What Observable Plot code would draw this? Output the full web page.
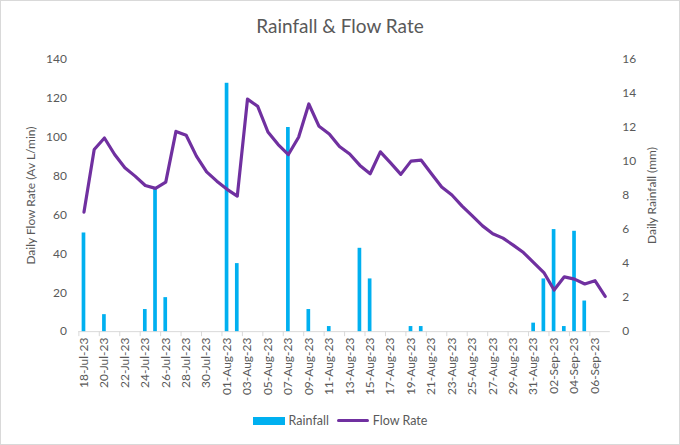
<!DOCTYPE html>
<html>
<head>
<meta charset="utf-8">
<script src="https://cdn.jsdelivr.net/npm/d3@7"></script>
<script src="https://cdn.jsdelivr.net/npm/@observablehq/plot@0.6"></script>
<style>
  html, body { margin: 0; padding: 0; background: #fff; }
  #chart { width: 680px; height: 445px; box-sizing: border-box; border: 1px solid #d9d9d9; position: relative; overflow: hidden; font-family: Lato, "Open Sans", sans-serif; color: #595959; }
  #title { position: absolute; left: 0; width: 100%; top: 13px; text-align: center; font-size: 19px; color: #595959; }
  #plot { position: absolute; left: 0; top: 45px; }
  #legend { position: absolute; top: 412px; left: 0; width: 100%; display: flex; justify-content: center; align-items: center; font-size: 12.5px; color: #595959; }
  .sw { display: inline-block; margin-right: 4px; }
</style>
</head>
<body>
<div id="chart">
  <div id="title">Rainfall &amp; Flow Rate</div>
  <div id="plot"></div>
  <div id="legend">
    <span class="sw" style="width:32px;height:8px;background:#00b0f0;"></span><span style="margin-right:8px">Rainfall</span>
    <span class="sw" style="width:32px;height:3px;background:#7030a0;border-radius:2px;"></span><span>Flow Rate</span>
  </div>
</div>
<script>
const dates = ["18-Jul-23","19-Jul-23","20-Jul-23","21-Jul-23","22-Jul-23","23-Jul-23","24-Jul-23","25-Jul-23","26-Jul-23","27-Jul-23","28-Jul-23","29-Jul-23","30-Jul-23","31-Jul-23",
  "01-Aug-23","02-Aug-23","03-Aug-23","04-Aug-23","05-Aug-23","06-Aug-23","07-Aug-23","08-Aug-23","09-Aug-23","10-Aug-23","11-Aug-23","12-Aug-23","13-Aug-23","14-Aug-23","15-Aug-23","16-Aug-23","17-Aug-23","18-Aug-23","19-Aug-23","20-Aug-23","21-Aug-23","22-Aug-23","23-Aug-23","24-Aug-23","25-Aug-23","26-Aug-23","27-Aug-23","28-Aug-23","29-Aug-23","30-Aug-23","31-Aug-23",
  "01-Sep-23","02-Sep-23","03-Sep-23","04-Sep-23","05-Sep-23","06-Sep-23","07-Sep-23"];
const flowRate = [61.5,93.7,99.6,91.1,84.3,80,75.2,73.7,76.9,103,101,90.3,82.2,77.4,
  73.2,69.7,119.6,115.9,102.7,96.2,91.1,100,117.1,105.6,101.7,95.2,91.4,85.5,81.2,92.5,86.8,80.9,87.7,88.2,81.2,74.4,70.3,64.6,59.5,54.4,50.4,48.1,44.5,40.7,35.5,
  30.4,21.4,28.2,27,24.5,26.2,18.1];
const rainfall = [5.8,0,1.0,0,0,0,1.3,8.4,2.0,0,0,0,0,0,
  14.6,4.0,0,0,0,0,12.0,0,1.3,0,0.3,0,0,4.9,3.1,0,0,0,0.3,0.3,0,0,0,0,0,0,0,0,0,0,0.5,
  3.1,6.0,0.3,5.9,1.8,0,0];
const leftTicks = [0,20,40,60,80,100,120,140];
const rightTicks = [0,2,4,6,8,10,12,14,16];
const labelDates = dates.filter((d, i) => i % 2 === 0);

const flowMax = 140, rainMax = 16, k = flowMax / rainMax;
const rows = dates.map((d, i) => ({date: d, flow: flowRate[i], rain: rainfall[i], rainScaled: rainfall[i] * k}));

const width = 680, height = 360, mL = 77.6, mR = 69.4;
const step = (width - mL - mR) / dates.length;
const font = "Lato, 'Open Sans', sans-serif";

const chart = Plot.plot({
  width, height,
  marginLeft: mL, marginRight: mR, marginTop: 13, marginBottom: 74,
  style: {fontFamily: font, fontSize: "12px", color: "#595959", background: "white"},
  x: {type: "band", domain: dates, paddingInner: 0.64, paddingOuter: 0.32, align: 0.5, round: false},
  y: {domain: [0, flowMax]},
  marks: [
    Plot.ruleY([0], {stroke: "#d9d9d9", strokeWidth: 1}),
    Plot.barY(rows, {x: "date", y: "rainScaled", fill: "#00b0f0"}),
    Plot.line(rows, {x: "date", y: "flow", stroke: "#7030a0", strokeWidth: 3.2, strokeLinejoin: "round", strokeLinecap: "round"}),
    Plot.axisX(labelDates, {tickSize: 5, stroke: "#d9d9d9", tickFormat: () => "", dx: -step / 2, label: null}),
    Plot.axisX(labelDates, {tickSize: 0, tickPadding: 6, tickRotate: -90, fontSize: 12, fill: "#595959", label: null}),
    Plot.axisY(leftTicks, {anchor: "left", tickSize: 0, tickPadding: 12, fill: "#595959", fontSize: 12,
      label: "Daily Flow Rate (Av L/min)", labelAnchor: "center", labelArrow: "none", labelOffset: 53}),
    Plot.axisY(rightTicks.map(v => v * k), {anchor: "right", tickSize: 0, tickPadding: 12, fill: "#595959", fontSize: 12,
      tickFormat: v => String(Math.round(v / k)),
      label: "Daily Rainfall (mm)", labelAnchor: "center", labelArrow: "none", labelOffset: 46})
  ]
});
document.getElementById("plot").appendChild(chart);
</script>
</body>
</html>
